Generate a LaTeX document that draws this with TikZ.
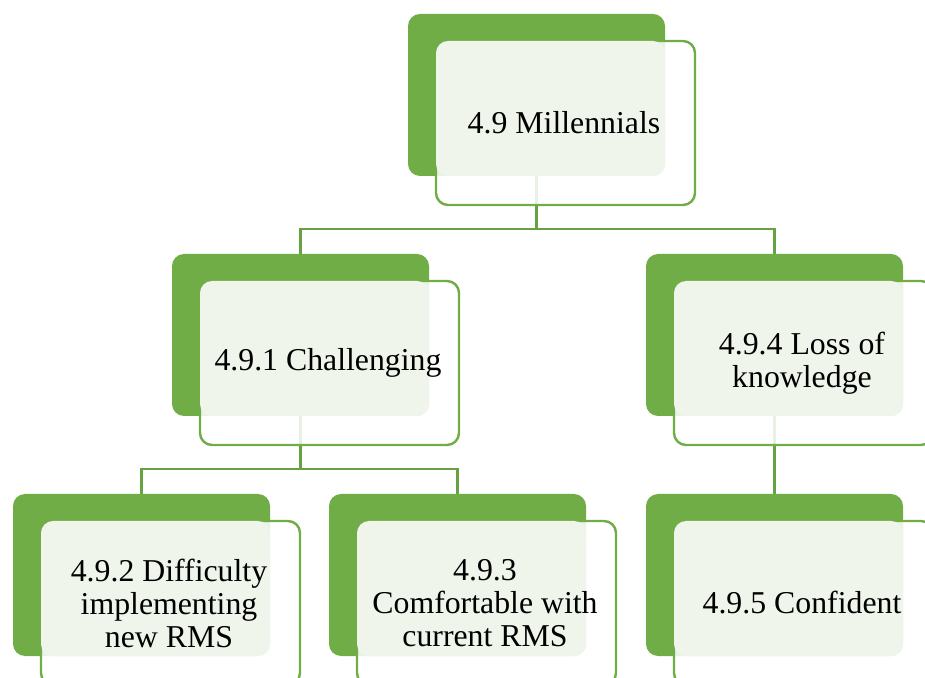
\documentclass[tikz,border=0pt]{standalone}
\usepackage{fontspec}
\setmainfont{Liberation Serif}
\usetikzlibrary{calc,backgrounds}
\definecolor{accent}{HTML}{70AD47}
\definecolor{tint}{HTML}{EFF5EA}
\definecolor{linkgreen}{HTML}{66A242}

% One hierarchy entry: solid back card, outlined front card, tinted text panel, text
\newcommand\hierbox[4]{%
  \node[backbox] (#1) at (#2,#3) {};
  \node[framebox] (#1f) at ($(#1.north west)+(28,-27)$) {};
  \node[tintbox] (#1t) at (#1f.north west) {};
  \node[nodetext] (#1l) at ($(#1f.center)+(-1.5,0)$) {#4};
}

\begin{document}
\begin{tikzpicture}[x=1pt,y=1pt,
  backbox/.style={fill=accent, draw=none, rounded corners=12pt,
    minimum width=257pt, minimum height=162pt, inner sep=0pt, outer sep=0pt,
    anchor=north west},
  framebox/.style={draw=accent, line width=2.4pt, fill=white, fill opacity=0.85,
    rounded corners=12pt, minimum width=259pt, minimum height=164pt,
    inner sep=0pt, outer sep=0pt, anchor=north west},
  tintbox/.style={fill=tint, draw=none, rounded corners=12pt,
    minimum width=229pt, minimum height=135pt, inner sep=0pt, outer sep=0pt,
    anchor=north west},
  nodetext/.style={align=center, font=\fontsize{31.8}{33}\selectfont,
    inner sep=0pt, text=black},
  link/.style={draw=linkgreen, line width=2.6pt}
]
\useasboundingbox (0,0) rectangle (925,677);
\clip (0,0) rectangle (925,677);

% top level
\hierbox{n0}{408}{663}{4.9 Millennials}
% second level
\hierbox{n1}{172}{423}{4.9.1 Challenging}
\hierbox{n4}{646}{423}{4.9.4 Loss of\\knowledge}
% third level
\hierbox{n2}{13}{183}{4.9.2 Difficulty\\implementing\\new RMS}
\hierbox{n3}{329}{183}{4.9.3\\Comfortable with\\current RMS}
\hierbox{n5}{646}{183}{4.9.5 Confident}

% connectors run underneath the cards
\begin{scope}[on background layer]
  \coordinate (bus0) at ($(n0.south)+(0,-53)$);
  \coordinate (bus1) at ($(n1.south)+(0,-53)$);
  \draw[link] (n0.south) -- (bus0) -| (n1.north);
  \draw[link] (bus0) -| (n4.north);
  \draw[link] (n1.south) -- (bus1) -| (n2.north);
  \draw[link] (bus1) -| (n3.north);
  \draw[link] (n4.south) -- (n5.north);
\end{scope}
\end{tikzpicture}
\end{document}
